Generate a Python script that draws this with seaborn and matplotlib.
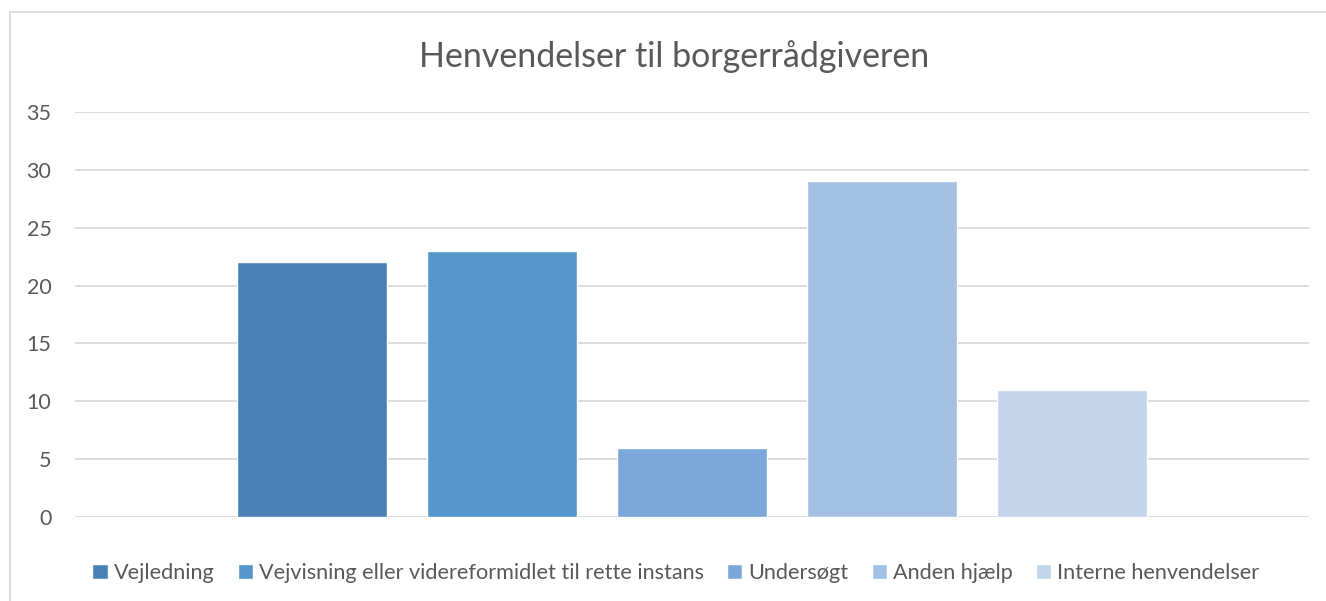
import matplotlib
matplotlib.use("Agg")
import matplotlib.pyplot as plt
import seaborn as sns
import pandas as pd
from matplotlib.patches import Rectangle

series = ["Vejledning", "Vejvisning eller videreformidlet til rette instans",
          "Undersøgt", "Anden hjælp", "Interne henvendelser"]
values = [22, 23, 6, 29, 11]
colors = ["#4A81B5", "#5696CC", "#7BA7D9", "#A4C1E3", "#C4D5EB"]
yticks = [0, 5, 10, 15, 20, 25, 30, 35]
title = "Henvendelser til borgerrådgiveren"

sns.set_theme(style="white")
plt.rcParams["font.family"] = ["Lato", "DejaVu Sans"]
text_color = "#595959"

df = pd.DataFrame({"series": series, "value": values})

W, H = 1326, 601
fig = plt.figure(figsize=(W / 100, H / 100), dpi=100)
ax = fig.add_axes([75 / W, 1 - 517 / H, (1309 - 75) / W, (517 - 112) / H])

sns.barplot(data=df, x="series", y="value", hue="series", order=series,
            hue_order=series, palette=colors, width=150 / 190, dodge=False,
            legend=True, saturation=1, ax=ax)

span = (1309 - 75) / 190
ax.set_xlim(2 - span / 2, 2 + span / 2)
ax.set_ylim(0, 35)
ax.set_yticks(yticks)
ax.set_yticklabels([str(t) for t in yticks])
ax.set_xticks([])
ax.set_xlabel("")
ax.set_ylabel("")
ax.grid(axis="y", color="#D9D9D9", linewidth=1.3)
ax.set_axisbelow(True)
for s in ax.spines.values():
    s.set_visible(False)
ax.tick_params(axis="y", length=0, pad=17, labelsize=15.5, labelcolor=text_color)

sns.move_legend(ax, "lower center", bbox_to_anchor=(676 / W, 1 - 592 / H),
                bbox_transform=fig.transFigure, ncol=5, frameon=False,
                title=None, fontsize=15.6, handlelength=0.7, handleheight=0.7,
                handletextpad=0.3, columnspacing=1.05, borderaxespad=0)
for t in ax.get_legend().get_texts():
    t.set_color(text_color)

fig.text(674 / W, 1 - 57 / H, title, ha="center", va="center",
         fontsize=24.5, color=text_color)

fig.patches.append(Rectangle((10 / W, -0.1), 1.2, 1 - 12 / H + 0.1,
                             transform=fig.transFigure, fill=False,
                             edgecolor="#D9D9D9", linewidth=1.3, zorder=0))

fig.savefig("out.png", dpi=100, facecolor="white")
